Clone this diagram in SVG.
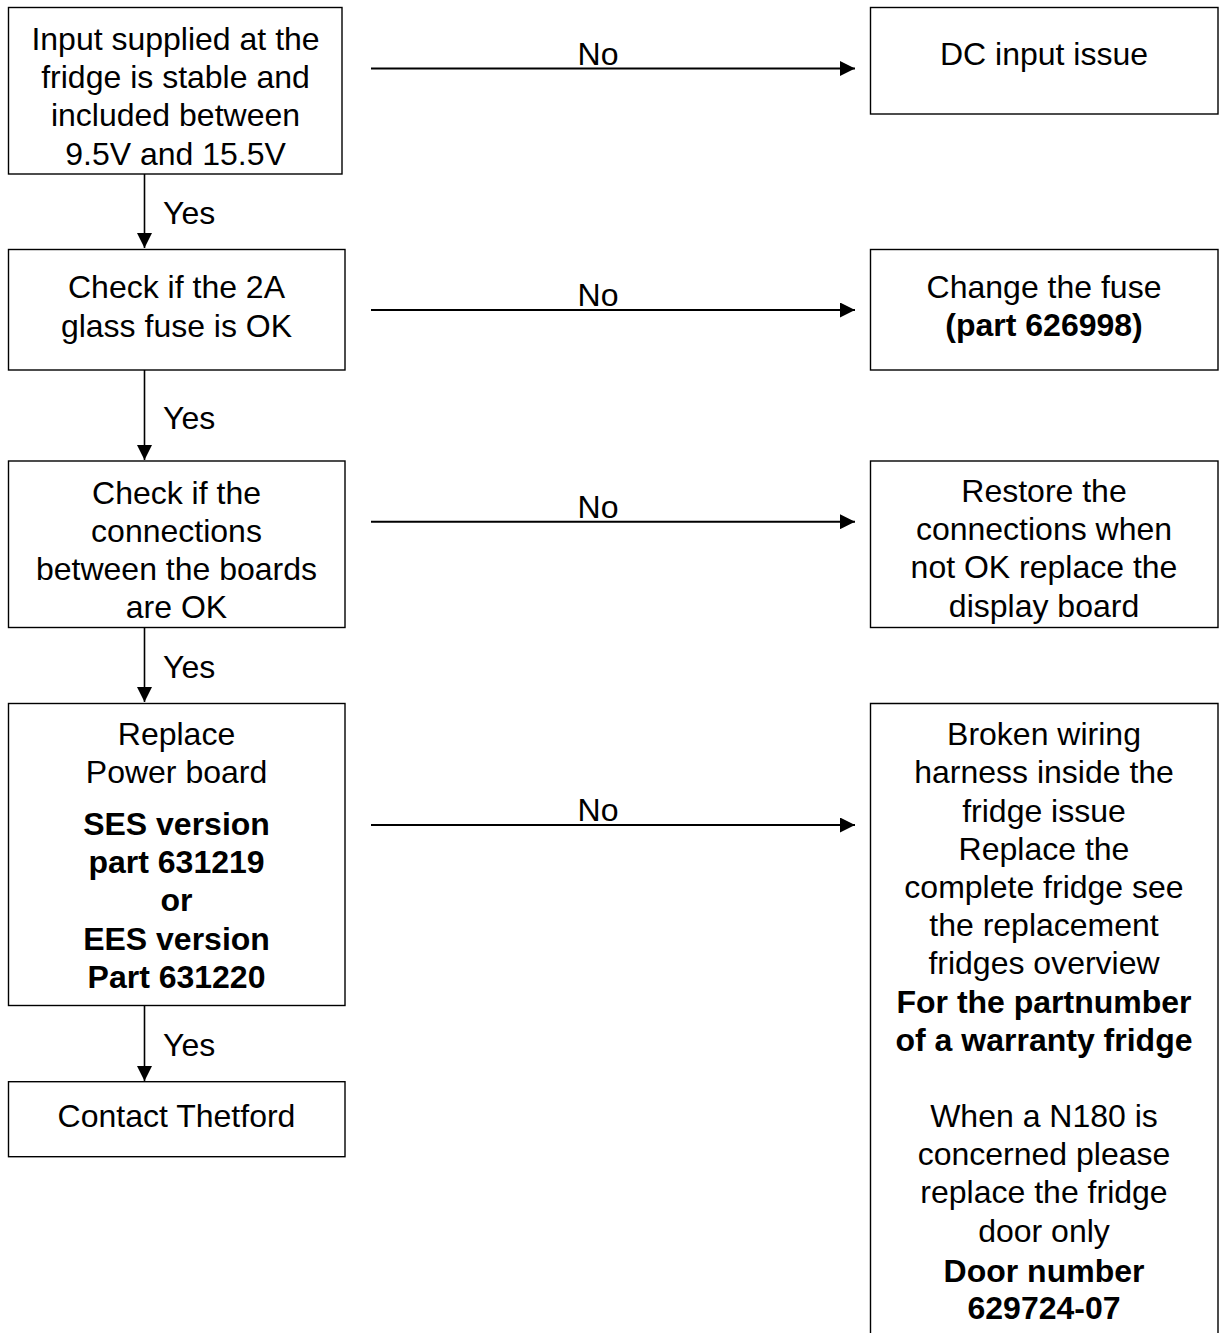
<svg xmlns="http://www.w3.org/2000/svg" width="1224" height="1333" viewBox="0 0 1224 1333">
<defs>
<style>
.box{fill:#fff;stroke:#000;stroke-width:1.4}
text{font-family:"Liberation Sans",Arial,sans-serif;font-size:32px;fill:#000;text-anchor:middle}
.b{font-weight:bold}
.lbl{text-anchor:start}
.c{stroke:#000;stroke-width:2;fill:none}
.v{stroke:#000;stroke-width:1.6;fill:none}
</style>
<marker id="ah" markerWidth="16" markerHeight="15" refX="15" refY="7.5" orient="auto" markerUnits="userSpaceOnUse">
<path d="M0,0 L15,7.5 L0,15 Z" fill="#000"/>
</marker>
</defs>
<rect width="1224" height="1333" fill="#fff"/>

<g id="n1">
<rect class="box" x="8.5" y="7.5" width="333.5" height="166.5"/>
<text x="175.5" y="50">Input supplied at the</text>
<text x="175.5" y="88">fridge is stable and</text>
<text x="175.5" y="126">included between</text>
<text x="175.5" y="164.5">9.5V and 15.5V</text>
</g>
<g id="n2">
<rect class="box" x="8.5" y="249.5" width="336.5" height="120.5"/>
<text x="176.5" y="298">Check if the 2A</text>
<text x="176.5" y="336.5">glass fuse is OK</text>
</g>
<g id="n3">
<rect class="box" x="8.5" y="461" width="336.5" height="166.5"/>
<text x="176.5" y="503.5">Check if the</text>
<text x="176.5" y="541.8">connections</text>
<text x="176.5" y="580">between the boards</text>
<text x="176.5" y="618.3">are OK</text>
</g>
<g id="n4">
<rect class="box" x="8.5" y="703.5" width="336.5" height="302"/>
<text x="176.5" y="745">Replace</text>
<text x="176.5" y="783.3">Power board</text>
<text class="b" x="176.5" y="835">SES version</text>
<text class="b" x="176.5" y="872.7">part 631219</text>
<text class="b" x="176.5" y="911">or</text>
<text class="b" x="176.5" y="950">EES version</text>
<text class="b" x="176.5" y="987.5">Part 631220</text>
</g>
<g id="n5">
<rect class="box" x="8.5" y="1081.7" width="336.5" height="75"/>
<text x="176.5" y="1126.7">Contact Thetford</text>
</g>
<g id="r1">
<rect class="box" x="870.5" y="7.5" width="347.5" height="106.5"/>
<text x="1044" y="65">DC input issue</text>
</g>
<g id="r2">
<rect class="box" x="870.5" y="249.5" width="347.5" height="120.5"/>
<text x="1044" y="298.3">Change the fuse</text>
<text class="b" x="1044" y="335.5">(part 626998)</text>
</g>
<g id="r3">
<rect class="box" x="870.5" y="461" width="347.5" height="166.5"/>
<text x="1044" y="501.7">Restore the</text>
<text x="1044" y="540">connections when</text>
<text x="1044" y="578">not OK replace the</text>
<text x="1044" y="616.7">display board</text>
</g>
<g id="r4">
<path class="box" d="M870.5,1334 V703.5 H1218 V1334"/>
<text x="1044" y="745">Broken wiring</text>
<text x="1044" y="783.3">harness inside the</text>
<text x="1044" y="821.7">fridge issue</text>
<text x="1044" y="860">Replace the</text>
<text x="1044" y="897.5">complete fridge see</text>
<text x="1044" y="935.5">the replacement</text>
<text x="1044" y="974">fridges overview</text>
<text class="b" x="1044" y="1013.3">For the partnumber</text>
<text class="b" x="1044" y="1051.3">of a warranty fridge</text>
<text x="1044" y="1126.7">When a N180 is</text>
<text x="1044" y="1165">concerned please</text>
<text x="1044" y="1203.3">replace the fridge</text>
<text x="1044" y="1241.7">door only</text>
<text class="b" x="1044" y="1281.7">Door number</text>
<text class="b" x="1044" y="1318.5">629724-07</text>
</g>

<g id="connectors">
<line class="v" x1="144.5" y1="174" x2="144.5" y2="248" marker-end="url(#ah)"/>
<line class="v" x1="144.5" y1="370" x2="144.5" y2="460" marker-end="url(#ah)"/>
<line class="v" x1="144.5" y1="628" x2="144.5" y2="702" marker-end="url(#ah)"/>
<line class="v" x1="144.5" y1="1006" x2="144.5" y2="1081" marker-end="url(#ah)"/>
<text class="lbl" x="163" y="223.5">Yes</text>
<text class="lbl" x="163" y="429">Yes</text>
<text class="lbl" x="163" y="677.5">Yes</text>
<text class="lbl" x="163" y="1056">Yes</text>
<line class="c" x1="371" y1="68.5" x2="855" y2="68.5" marker-end="url(#ah)"/>
<line class="c" x1="371" y1="310" x2="855" y2="310" marker-end="url(#ah)"/>
<line class="c" x1="371" y1="521.7" x2="855" y2="521.7" marker-end="url(#ah)"/>
<line class="c" x1="371" y1="825" x2="855" y2="825" marker-end="url(#ah)"/>
<text x="598" y="64.5">No</text>
<text x="598" y="306">No</text>
<text x="598" y="517.5">No</text>
<text x="598" y="821">No</text>
</g>
</svg>
